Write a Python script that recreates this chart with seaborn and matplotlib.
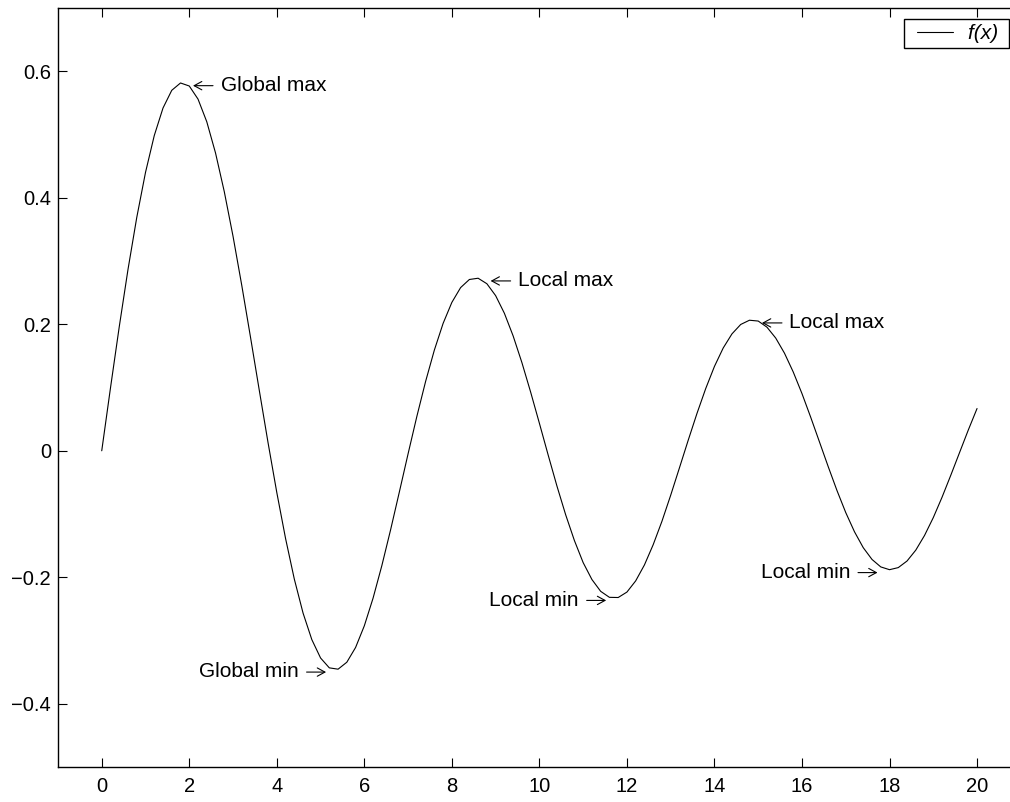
import numpy as np
import matplotlib
matplotlib.use("Agg")
import matplotlib.pyplot as plt
import matplotlib.transforms as mtransforms
from matplotlib.lines import Line2D
from matplotlib.legend_handler import HandlerLine2D
import seaborn as sns

x_vals = [round(0.2 * i, 1) for i in range(101)]
f_vals = [
    0.0000, 0.0995, 0.1960, 0.2867, 0.3688, 0.4401, 0.4983, 0.5419, 0.5699, 0.5815,
    0.5767, 0.5560, 0.5202, 0.4708, 0.4097, 0.3391, 0.2613, 0.1792, 0.0955, 0.0128,
    -0.0660, -0.1386, -0.2028, -0.2566, -0.2985, -0.3276, -0.3432, -0.3453, -0.3343, -0.3110,
    -0.2767, -0.2329, -0.1816, -0.1250, -0.0652, -0.0047, 0.0543, 0.1096, 0.1592, 0.2014,
    0.2346, 0.2580, 0.2708, 0.2728, 0.2641, 0.2453, 0.2174, 0.1816, 0.1395, 0.0928,
    0.0435, -0.0066, -0.0555, -0.1011, -0.1419, -0.1768, -0.2035, -0.2222, -0.2317, -0.2320,
    -0.2234, -0.2057, -0.1805, -0.1485, -0.1115, -0.0703, -0.0270, 0.0166, 0.0589, 0.0983,
    0.1334, 0.1625, 0.1848, 0.1997, 0.2064, 0.2051, 0.1954, 0.1782, 0.1543, 0.1246,
    0.0904, 0.0529, 0.0139, -0.0252, -0.0629, -0.0977, -0.1281, -0.1532, -0.1718, -0.1836,
    -0.1880, -0.1847, -0.1743, -0.1571, -0.1339, -0.1057, -0.0735, -0.0387, -0.0029, 0.0328,
    0.0668,
]
x_ticks = [0, 2, 4, 6, 8, 10, 12, 14, 16, 18, 20]
y_ticks = [-0.4, -0.2, 0, 0.2, 0.4, 0.6]
y_tick_labels = ["\u22120.4", "\u22120.2", "0", "0.2", "0.4", "0.6"]

sns.set_style("ticks")
plt.rcParams['font.family'] = ['Liberation Sans', 'DejaVu Sans']
plt.rcParams['text.color'] = 'black'

fig = plt.figure(figsize=(10.1, 8.02), dpi=100)
# axes runs past the right edge, like the cropped original
ax = fig.add_axes([0.0574, 0.0436, 0.9533, 0.9464])

sns.lineplot(x=x_vals, y=f_vals, ax=ax, color='black', linewidth=0.8,
             label='f(x)', legend=False)

ax.set_xlim(-1, 21)
ax.set_ylim(-0.5, 0.7)
ax.set_xticks(x_ticks)
ax.set_xticklabels([str(t) for t in x_ticks])
ax.set_yticks(y_ticks)
ax.set_yticklabels(y_tick_labels)
ax.tick_params(direction='in', top=True, right=True, length=6.5, width=0.8,
               color='black', labelsize=14.5, labelcolor='black')
ax.tick_params(axis='x', pad=7)
ax.tick_params(axis='y', pad=5)
for s in ax.spines.values():
    s.set_color('black')
    s.set_linewidth(1.0)


def shifted(dx, dy):
    # data transform nudged by a few pixels
    return mtransforms.offset_copy(ax.transData, fig=fig, x=dx, y=dy, units='dots')


arrow = dict(arrowstyle='->,head_length=0.55,head_width=0.3', lw=0.8, color='black',
             shrinkA=0, shrinkB=0, mutation_scale=10)

# mark the turning points
y = np.array(f_vals)
xs = np.array(x_vals)
gmax = int(np.argmax(y))
gmin = int(np.argmin(y))
for i in range(1, len(y) - 1):
    pt = (xs[i], y[i])
    if y[i] > y[i - 1] and y[i] > y[i + 1]:
        txt = 'Global max' if i == gmax else 'Local max'
        ax.annotate('', xy=pt, xycoords=shifted(12.5, -2.7),
                    xytext=pt, textcoords=shifted(32.5, -2.7), arrowprops=arrow)
        ax.text(*pt, txt, transform=shifted(40, -2.6), ha='left', va='center',
                fontsize=15)
    elif y[i] < y[i - 1] and y[i] < y[i + 1]:
        txt = 'Global min' if i == gmin else 'Local min'
        ax.annotate('', xy=pt, xycoords=shifted(-12, -2.9),
                    xytext=pt, textcoords=shifted(-31.5, -2.9), arrowprops=arrow)
        ax.text(*pt, txt, transform=shifted(-39.5, -2.6), ha='right', va='center',
                fontsize=15)

handles, labels = ax.get_legend_handles_labels()
leg = ax.legend(handles, [lab + ' ' for lab in labels],
                loc='upper right', bbox_to_anchor=(1009 / 1010, 1 - 19 / 802),
                bbox_transform=fig.transFigure, borderaxespad=0, fancybox=False,
                framealpha=1, edgecolor='black', handlelength=2.1,
                handletextpad=0.7, borderpad=0.25,
                handler_map={Line2D: HandlerLine2D(xpad=0.35)},
                prop={'style': 'italic', 'size': 15})
leg.get_frame().set_linewidth(1.0)

fig.savefig('out.png', dpi=100)
